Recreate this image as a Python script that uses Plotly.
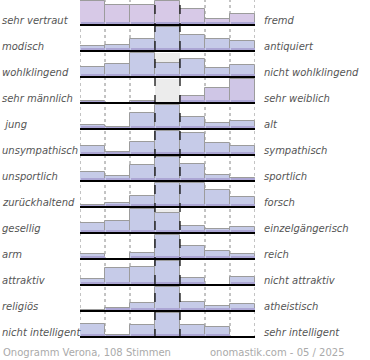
import plotly.graph_objects as go

# ---- data -------------------------------------------------------------
left_labels = ["sehr vertraut", "modisch", "wohlklingend", "sehr männlich", " jung",
               "unsympathisch", "unsportlich", "zurückhaltend", "gesellig", "arm",
               "attraktiv", "religiös", "nicht intelligent"]
right_labels = ["fremd", "antiquiert", "nicht wohlklingend", "sehr weiblich", "alt",
                "sympathisch", "sportlich", "forsch", "einzelgängerisch", "reich",
                "nicht attraktiv", "atheistisch", "sehr intelligent"]
# relative frequency per scale step (100 = most frequent step of the row)
values = [
    [100, 83, 83, 100, 65, 24, 45],
    [20, 25, 49, 100, 67, 49, 43],
    [42, 53, 100, 58, 76, 38, 51],
    [8, 0, 10, 0, 29, 61, 100],
    [15, 7, 68, 100, 51, 24, 32],
    [36, 13, 53, 100, 92, 49, 36],
    [38, 20, 65, 100, 70, 24, 14],
    [7, 15, 45, 100, 100, 70, 43],
    [42, 49, 100, 83, 28, 18, 24],
    [20, 0, 25, 100, 53, 32, 20],
    [24, 70, 74, 100, 28, 0, 32],
    [4, 11, 32, 100, 36, 21, 29],
    [53, 7, 49, 100, 49, 42, 0],
]
footer_left = "Onogramm Verona, 108 Stimmen"
footer_right = "onomastik.com - 05 / 2025"

# ---- layout constants --------------------------------------------------
W, H = 370, 360
L, R, T, B = 80, 115, 0, 22
PITCH = 26.0           # px per row
MAXH = 24.0 / PITCH    # max bar height in row units
STRIP = 3.0 / PITCH
nrows = len(values)
plot_h = H - T - B
row_fill = ["#d7c9e7", "#c6cbe8", "#c6cbe8", "#cfc6e6", "#c6cbe8", "#c6cbe8", "#c6cbe8",
            "#c6cbe8", "#c6cbe8", "#c6cbe8", "#c6cbe8", "#c6cbe8", "#c6cbe8"]

fig = go.Figure()
shapes = []
annotations = []

xs, ys, bases, cols = [], [], [], []
sx, sy, sb = [], [], []
for r, row in enumerate(values):
    base = nrows - 1 - r
    # grey background of the neutral column
    shapes.append(dict(type="rect", xref="x", yref="y", x0=3, x1=4, y0=base, y1=base + MAXH,
                       fillcolor="#ececec", line=dict(width=0), layer="below"))
    for i, v in enumerate(row):
        h = v / 100.0 * MAXH
        if h <= 0:
            continue
        xs.append(i + 0.5); ys.append(h); bases.append(base); cols.append(row_fill[r])
        sx.append(i + 0.5); sy.append(min(h, STRIP)); sb.append(base)
    # baseline
    shapes.append(dict(type="line", xref="x", yref="y", x0=0, x1=7.05, y0=base, y1=base,
                       line=dict(color="black", width=2), layer="above"))
    ycen = base + 5.0 / PITCH
    annotations.append(dict(text=left_labels[r], xref="paper", yref="y", x=(0 - L) / (W - L - R),
                            y=ycen, xanchor="left", yanchor="middle", showarrow=False,
                            font=dict(family="DejaVu Sans", size=10, color="#555555", style="italic")))
    annotations.append(dict(text=right_labels[r], xref="paper", yref="y", x=(262 - L) / (W - L - R),
                            y=ycen, xanchor="left", yanchor="middle", showarrow=False,
                            font=dict(family="DejaVu Sans", size=10, color="#555555", style="italic")))

fig.add_trace(go.Bar(x=xs, y=ys, base=bases, width=1.0,
                     marker=dict(color=cols, line=dict(color="#9c9c9c", width=1)),
                     hoverinfo="skip", showlegend=False))
fig.add_trace(go.Bar(x=sx, y=sy, base=sb, width=0.96,
                     marker=dict(color="#aca6d4", line=dict(width=0)),
                     hoverinfo="skip", showlegend=False))

ytop = nrows - 1 + 25.0 / PITCH
ybot = -1.0 / PITCH
for k in [0, 1, 2, 5, 6, 7]:
    shapes.append(dict(type="line", xref="x", yref="y", x0=k, x1=k, y0=ybot, y1=ytop,
                       line=dict(color="#888888", width=1, dash="dot"), layer="below"))
for k in [3, 4]:
    shapes.append(dict(type="line", xref="x", yref="y", x0=k, x1=k, y0=ybot, y1=ytop,
                       line=dict(color="black", width=1.2, dash="dash"), layer="above"))

fy = (plot_h - (352 - T)) / plot_h
annotations.append(dict(text=footer_left, xref="paper", yref="paper", x=(1 - L) / (W - L - R), y=fy,
                        xanchor="left", yanchor="middle", showarrow=False,
                        font=dict(family="DejaVu Sans", size=10, color="#aaaaaa")))
annotations.append(dict(text=footer_right, xref="paper", yref="paper", x=(347 - L) / (W - L - R), y=fy,
                        xanchor="right", yanchor="middle", showarrow=False,
                        font=dict(family="DejaVu Sans", size=10, color="#aaaaaa")))

fig.update_layout(
    width=W, height=H, margin=dict(l=L, r=R, t=T, b=B),
    paper_bgcolor="white", plot_bgcolor="white",
    barmode="overlay", bargap=0,
    xaxis=dict(range=[0, 7], visible=False, fixedrange=True),
    yaxis=dict(range=[ybot, ytop], visible=False, fixedrange=True),
    shapes=shapes, annotations=annotations,
)
fig.write_html("out.html", config={"displayModeBar": False},
               post_script="document.body.style.margin='0';document.body.style.overflow='hidden';")
